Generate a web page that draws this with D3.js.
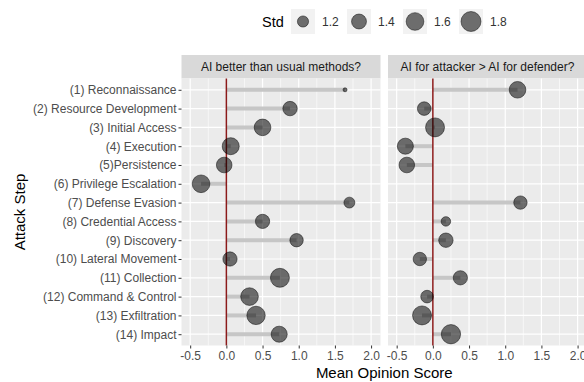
<!DOCTYPE html>
<html>
<head>
<meta charset="utf-8">
<script src="https://cdn.jsdelivr.net/npm/d3@7"></script>
<style>
  body { margin: 0; background: #fff; }
  svg { font-family: "Liberation Sans", Arial, sans-serif; }
</style>
</head>
<body>
<svg id="chart" width="584" height="382"></svg>
<script>
const steps = ['(1) Reconnaissance', '(2) Resource Development', '(3) Initial Access', '(4) Execution',
    '(5)Persistence', '(6) Privilege Escalation', '(7) Defense Evasion', '(8) Credential Access',
    '(9) Discovery', '(10) Lateral Movement', '(11) Collection', '(12) Command & Control',
    '(13) Exfiltration', '(14) Impact'];
const panels = ['AI better than usual methods?', 'AI for attacker > AI for defender?'];

const betterMean = [1.64, 0.88, 0.50, 0.06, -0.03, -0.35, 1.70, 0.50, 0.97, 0.05, 0.74, 0.32, 0.41, 0.73];
const betterStd = [1.05, 1.37, 1.52, 1.55, 1.45, 1.60, 1.19, 1.36, 1.31, 1.36, 1.71, 1.60, 1.66, 1.48];
const attackerMean = [1.17, -0.12, 0.03, -0.38, -0.36, null, 1.21, 0.18, 0.18, -0.18, 0.38, -0.08, -0.15, 0.25];
const attackerStd = [1.52, 1.32, 1.71, 1.48, 1.45, null, 1.31, 1.14, 1.37, 1.31, 1.36, 1.27, 1.71, 1.74];

const xTicks = [-0.5, 0, 0.5, 1, 1.5, 2];
const xMinor = [-0.25, 0.25, 0.75, 1.25, 1.75];
const legendStd = [1.2, 1.4, 1.6, 1.8];
const stdMin = 1.05;

const svg = d3.select('#chart');

const panelW = 199;
const panelX = [181.5, 388];
const panelTop = 78.5, panelBottom = 345.5, stripTop = 55;

const x = d3.scaleLinear().domain([-0.62, 2.13]).range([0, panelW]);
const y = d3.scalePoint().domain(steps).range([panelTop, panelBottom]).padding(0.6);
const rLin = d3.scaleLinear().domain([0, Math.sqrt(0.85)]).range([2, 10.5]);
const r = (s) => rLin(Math.sqrt(Math.max(0, s - stdMin)));
const fmt = (d) => d3.format('.1f')(d).replace('\u2212', '-');

const series = [
    steps.map((s, i) => ({ step: s, mean: betterMean[i], std: betterStd[i] })),
    steps.map((s, i) => ({ step: s, mean: attackerMean[i], std: attackerStd[i] })),
];

panels.forEach((title, p) => {
    const g = svg.append('g').attr('transform', `translate(${panelX[p]},0)`);

    g.append('rect')
        .attr('x', 0).attr('y', stripTop)
        .attr('width', panelW).attr('height', panelTop - stripTop)
        .attr('fill', '#d9d9d9');
    g.append('text')
        .attr('x', panelW / 2).attr('y', (stripTop + panelTop) / 2)
        .attr('dy', '0.35em')
        .attr('text-anchor', 'middle')
        .attr('font-size', '12px')
        .attr('fill', '#1a1a1a')
        .text(title);

    g.append('rect')
        .attr('x', 0).attr('y', panelTop)
        .attr('width', panelW).attr('height', panelBottom - panelTop)
        .attr('fill', '#ebebeb');

    g.selectAll('.minor')
        .data(xMinor)
        .enter()
        .append('line')
        .attr('x1', (d) => x(d)).attr('x2', (d) => x(d))
        .attr('y1', panelTop).attr('y2', panelBottom)
        .attr('stroke', '#fff')
        .attr('stroke-width', 0.6);

    g.selectAll('.majorx')
        .data(xTicks)
        .enter()
        .append('line')
        .attr('x1', (d) => x(d)).attr('x2', (d) => x(d))
        .attr('y1', panelTop).attr('y2', panelBottom)
        .attr('stroke', '#fff')
        .attr('stroke-width', 1.2);

    g.selectAll('.majory')
        .data(steps)
        .enter()
        .append('line')
        .attr('x1', 0).attr('x2', panelW)
        .attr('y1', (d) => y(d)).attr('y2', (d) => y(d))
        .attr('stroke', '#fff')
        .attr('stroke-width', 1.2);

    const data = series[p].filter((d) => d.mean !== null);

    g.selectAll('.seg')
        .data(data)
        .enter()
        .append('line')
        .attr('x1', x(0)).attr('x2', (d) => x(d.mean))
        .attr('y1', (d) => y(d.step)).attr('y2', (d) => y(d.step))
        .attr('stroke', '#c6c6c6')
        .attr('stroke-width', 4);

    g.append('line')
        .attr('x1', x(0)).attr('x2', x(0))
        .attr('y1', panelTop).attr('y2', panelBottom)
        .attr('stroke', '#8b1a1a')
        .attr('stroke-width', 1.5);

    g.selectAll('.pt')
        .data(data)
        .enter()
        .append('circle')
        .attr('cx', (d) => x(d.mean))
        .attr('cy', (d) => y(d.step))
        .attr('r', (d) => r(d.std))
        .attr('fill', 'rgba(0,0,0,0.55)')
        .attr('stroke', 'rgba(0,0,0,0.6)')
        .attr('stroke-width', 0.8);

    const xAxis = g.append('g')
        .attr('transform', `translate(0,${panelBottom})`)
        .call(d3.axisBottom(x).tickValues(xTicks).tickSize(3).tickPadding(2.5).tickFormat(fmt));
    xAxis.select('.domain').remove();
    xAxis.selectAll('line').attr('stroke', '#333');
    xAxis.selectAll('text')
        .attr('fill', '#4d4d4d')
        .attr('font-size', '12px')
        .attr('font-family', '"Liberation Sans", Arial, sans-serif');

    if (p === 0) {
        const yAxis = g.append('g')
            .call(d3.axisLeft(y).tickSize(3).tickPadding(2));
        yAxis.select('.domain').remove();
        yAxis.selectAll('line').attr('stroke', '#333');
        yAxis.selectAll('text')
            .attr('fill', '#4d4d4d')
            .attr('font-size', '12px')
            .attr('font-family', '"Liberation Sans", Arial, sans-serif');
    }
});

svg.append('text')
    .attr('x', (panelX[0] + panelX[1] + panelW) / 2)
    .attr('y', 378)
    .attr('text-anchor', 'middle')
    .attr('font-size', '15px')
    .attr('fill', '#000')
    .text('Mean Opinion Score');

svg.append('text')
    .attr('transform', `translate(25,${(panelTop + panelBottom) / 2}) rotate(-90)`)
    .attr('text-anchor', 'middle')
    .attr('font-size', '15px')
    .attr('fill', '#000')
    .text('Attack Step');

// legend
const legend = svg.append('g');
legend.append('text')
    .attr('x', 262).attr('y', 22)
    .attr('dy', '0.35em')
    .attr('font-size', '14.5px')
    .text('Std');

const keys = legend.selectAll('.key')
    .data(legendStd)
    .enter()
    .append('g')
    .attr('transform', (d, i) => `translate(${291 + i * 56},9)`);
keys.append('rect')
    .attr('width', 24).attr('height', 25)
    .attr('fill', '#f2f2f2');
keys.append('circle')
    .attr('cx', 12).attr('cy', 12.5)
    .attr('r', (d) => r(d))
    .attr('fill', 'rgba(0,0,0,0.55)')
    .attr('stroke', 'rgba(0,0,0,0.6)')
    .attr('stroke-width', 0.8);
keys.append('text')
    .attr('x', 31).attr('y', 12.5)
    .attr('dy', '0.35em')
    .attr('font-size', '12px')
    .attr('fill', '#333')
    .text((d) => d.toFixed(1));
</script>
</body>
</html>
